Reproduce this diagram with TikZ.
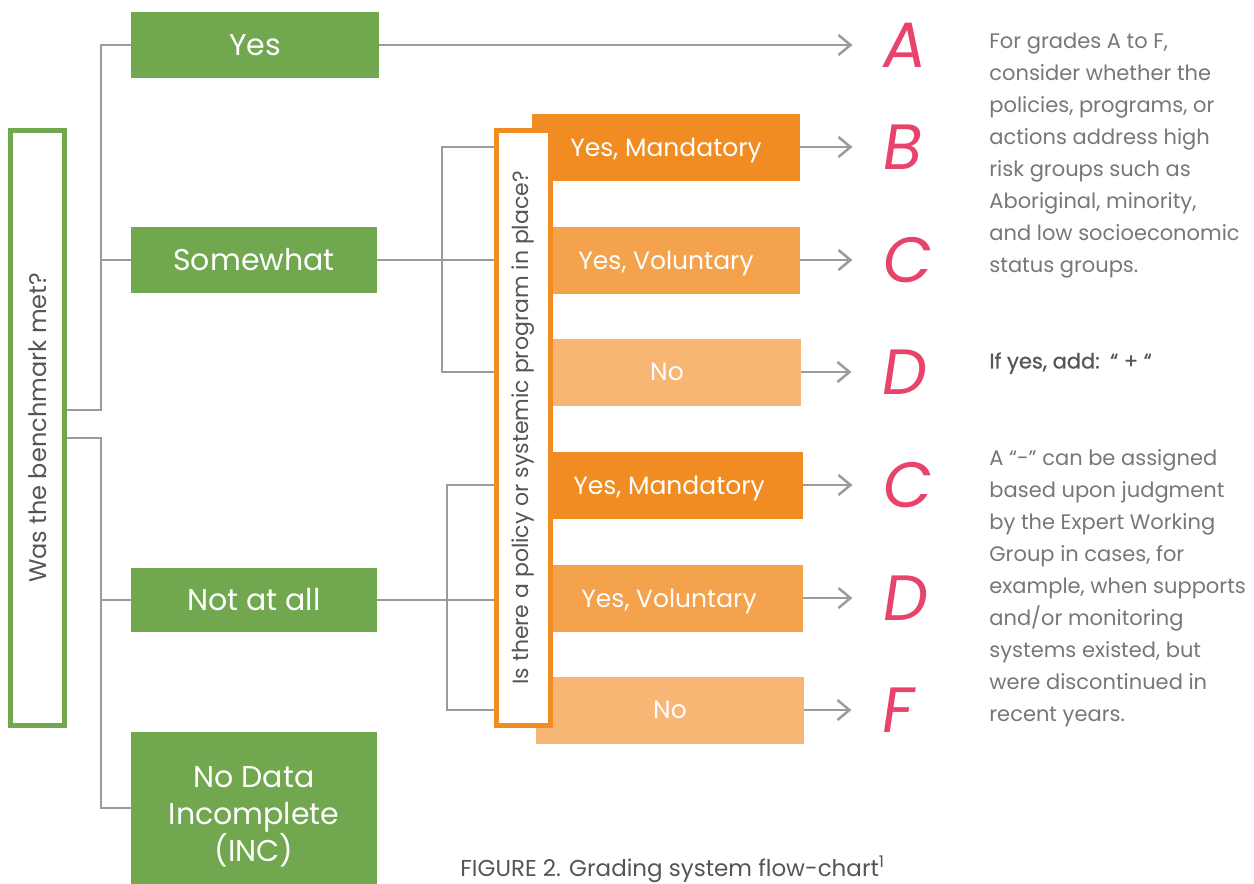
\documentclass[tikz,border=0pt]{standalone}
\usepackage{fontspec}
\setmainfont{Poppins}
\newfontfamily\gradefont[FakeSlant=0.15]{Poppins}
\newfontfamily\mediumfont[FakeBold=0.8]{Poppins}
\usetikzlibrary{positioning, arrows.meta}
\definecolor{leafgreen}{HTML}{71A74F}
\definecolor{mandorange}{HTML}{F18C22}
\definecolor{volorange}{HTML}{F4A24C}
\definecolor{noorange}{HTML}{F7B674}
\definecolor{gradepink}{HTML}{E8436A}
\definecolor{wiregray}{HTML}{9B9B9B}
\definecolor{inkgray}{HTML}{555555}
\definecolor{notegray}{HTML}{777777}

\begin{document}
\begin{tikzpicture}[x=0.5pt, y=-0.5pt, >={Straight Barb[length=6pt, width=10pt]},
	answer/.style = {fill=leafgreen, text=white, minimum width=124pt, minimum height=33pt, inner sep=0pt, font=\fontsize{15}{18.5}\selectfont},
	choice/.style = {text=white, minimum width=134pt, minimum height=33.5pt, inner sep=0pt, text depth=0pt, font=\fontsize{12.5}{15}\selectfont},
	question/.style = {draw, line width=2.5pt, fill=white, rotate=90, minimum width=297.5pt, minimum height=27pt, inner sep=0pt, text=inkgray, font=\fontsize{12}{14}\selectfont},
	link/.style = {draw=wiregray, line width=1.25pt},
	grade/.style = {text=gradepink, inner xsep=14pt, inner ysep=0pt, font=\gradefont\fontsize{32}{32}\selectfont},
	note/.style = {text=notegray, anchor=north west, align=left, inner sep=0pt, font=\fontsize{10.5}{16}\selectfont}]
	\useasboundingbox (0,0) rectangle (1254,884);
	\clip (0,0) rectangle (1254,884);

	\node[question, draw=leafgreen] (benchmark) at (37.5,428) {Was the benchmark met?};
	\node[answer] (yes) at (255,45) {Yes};
	\node[answer, minimum width=123pt] (somewhat) at (254,260) {Somewhat};
	\node[answer, minimum width=123pt, minimum height=32pt] (notatall) at (254,600) {Not at all};
	\node[answer, minimum width=123pt, minimum height=76pt, align=center, text height=53pt, text depth=0pt] (nodata) at (254,808) {No Data\\Incomplete\\(INC)};

	\node[choice, fill=mandorange] (mand1) at (666,147) {Yes, Mandatory};
	\node[choice, fill=volorange] (vol1) at (666,260) {Yes, Voluntary};
	\node[choice, fill=noorange] (no1) at (667,372) {No};
	\node[choice, fill=mandorange] (mand2) at (669,485) {Yes, Mandatory};
	\node[choice, fill=volorange] (vol2) at (669,598) {Yes, Voluntary};
	\node[choice, fill=noorange] (no2) at (670,710) {No};
	\node[question, draw=mandorange, font=\fontsize{11}{13}\selectfont] (policy) at (523.5,428) {Is there a policy or systemic program in place?};

	\node[grade, right=236.5pt of yes] (gA) {A};
	\node[grade, right=26pt of mand1] (gB) {B};
	\node[grade, right=26pt of vol1] (gC1) {C};
	\node[grade, right=25pt of no1] (gD1) {D};
	\node[grade, right=24.5pt of mand2] (gC2) {C};
	\node[grade, right=24.5pt of vol2] (gD2) {D};
	\node[grade, right=23.5pt of no2] (gF) {F};

	\draw[link] ([yshift=9pt]benchmark.south) -- ++(34,0) |- (yes);
	\draw[link] (somewhat.west) -- ++(-31,0);
	\draw[link] ([yshift=-5pt]benchmark.south) -- ++(34,0) |- (nodata);
	\draw[link] (notatall.west) -- ++(-31,0);

	\draw[link] (somewhat.east) -- (somewhat.east -| policy.north);
	\draw[link] (mand1.east -| policy.north) -- ++(-52,0) |- (no1.west -| policy.north);
	\draw[link] (vol1.west -| policy.north) -- ++(-52,0);
	\draw[link] (notatall.east) -- (notatall.east -| policy.north);
	\draw[link] (mand2.east -| policy.north) -- ++(-47,0) |- (no2.west -| policy.north);

	\draw[link, ->] (yes) -- (gA);
	\draw[link, ->] (mand1) -- (gB);
	\draw[link, ->] (vol1) -- (gC1);
	\draw[link, ->] (no1) -- (gD1);
	\draw[link, ->] (mand2) -- (gC2);
	\draw[link, ->] (vol2) -- (gD2);
	\draw[link, ->] (no2) -- (gF);

	\node[note] (gradenote) at (989,33) {For grades A to F,\\consider whether the\\policies, programs, or\\actions address high\\risk groups such as\\Aboriginal, minority,\\and low socioeconomic\\status groups.};
	\node[note, text=inkgray, font=\mediumfont\fontsize{10.5}{16}\selectfont] (plusnote) at (989,352) {If yes, add:\enspace“ + “};
	\node[note] (minusnote) at (989,449) {A “-” can be assigned\\based upon judgment\\by the Expert Working\\Group in cases, for\\example, when supports\\and/or monitoring\\systems existed, but\\were discontinued in\\recent years.};
	\node[anchor=base west, inner sep=0pt, text=inkgray, font=\fontsize{11.5}{14}\selectfont] (caption) at (460,876) {FIGURE 2. Grading system flow-chart\textsuperscript{1}};
\end{tikzpicture}
\end{document}
